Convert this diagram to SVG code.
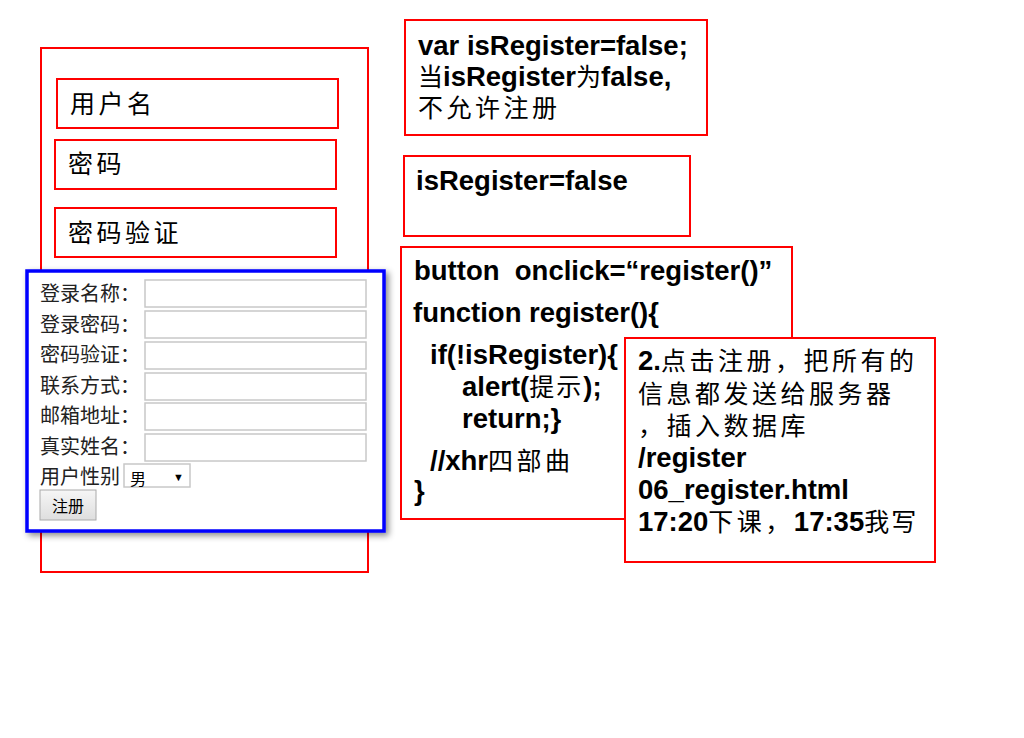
<svg xmlns="http://www.w3.org/2000/svg" width="1024" height="738" viewBox="0 0 1024 738">
<style>
.box{fill:#fff;stroke:#f00;stroke-width:2}
.t{font-family:"Liberation Sans","Noto Sans CJK SC",sans-serif;fill:#000}
.b{font-weight:bold;font-size:27.5px}
.c{font-size:25px;letter-spacing:3.5px;font-weight:normal}
.f{font-size:20px;fill:#222}
.in{fill:#fff;stroke:#c8c8c8;stroke-width:1.5}
</style>
<defs>
<filter id="sh" x="-10%" y="-10%" width="125%" height="125%">
<feDropShadow dx="3" dy="3" stdDeviation="3" flood-color="#000" flood-opacity="0.45"/>
</filter>
<linearGradient id="btn" x1="0" y1="0" x2="0" y2="1">
<stop offset="0" stop-color="#f6f6f6"/><stop offset="1" stop-color="#dedede"/>
</linearGradient>
</defs>
<rect width="1024" height="738" fill="#fff"/>
<g id="page">
<rect class="box" x="41" y="48" width="327" height="524"/>
</g>
<g id="username">
<rect class="box" x="57" y="79" width="281" height="49"/>
<text class="t c" x="70" y="113">用户名</text>
</g>
<g id="password">
<rect class="box" x="55" y="140" width="281" height="49"/>
<text class="t c" x="68" y="173">密码</text>
</g>
<g id="password-confirm">
<rect class="box" x="55" y="208" width="281" height="49"/>
<text class="t c" x="68" y="242">密码验证</text>
</g>
<g id="form">
<rect x="27" y="271" width="357" height="260" fill="#fff" stroke="#00f" stroke-width="3.5" filter="url(#sh)"/>
<text class="t f" x="40" y="301">登录名称：</text>
<text class="t f" x="40" y="332">登录密码：</text>
<text class="t f" x="40" y="362">密码验证：</text>
<text class="t f" x="40" y="393">联系方式：</text>
<text class="t f" x="40" y="423">邮箱地址：</text>
<text class="t f" x="40" y="454">真实姓名：</text>
<rect class="in" x="145" y="280" width="221" height="27"/>
<rect class="in" x="145" y="311" width="221" height="27"/>
<rect class="in" x="145" y="342" width="221" height="27"/>
<rect class="in" x="145" y="373" width="221" height="27"/>
<rect class="in" x="145" y="403" width="221" height="27"/>
<rect class="in" x="145" y="434" width="221" height="27"/>
<text class="t f" x="40" y="484">用户性别</text>
<rect class="in" x="124" y="464" width="66" height="23"/>
<text class="t" x="130" y="485" font-size="16">男</text>
<text class="t" x="173" y="481" font-size="11">▼</text>
<rect x="40" y="490" width="56" height="30" fill="url(#btn)" stroke="#aaa" stroke-width="1"/>
<text class="t" x="68" y="512" font-size="16" text-anchor="middle" fill="#222">注册</text>
</g>
<g id="note-var">
<rect class="box" x="405" y="20" width="302" height="115"/>
<text class="t b" x="418" y="55">var isRegister=false;</text>
<text class="t b" x="418" y="86"><tspan class="c" style="letter-spacing:0">当</tspan>isRegister<tspan class="c" style="letter-spacing:0">为</tspan>false,</text>
<text class="t c" x="418" y="117">不允许注册</text>
</g>
<g id="note-false">
<rect class="box" x="404" y="156" width="286" height="80"/>
<text class="t b" x="416" y="190">isRegister=false</text>
</g>
<g id="note-code">
<rect class="box" x="401" y="247" width="391" height="272"/>
<text class="t b" x="414" y="280" xml:space="preserve">button  onclick=“register()”</text>
<text class="t b" x="413" y="322">function register(){</text>
<text class="t b" x="430" y="364">if(!isRegister){</text>
<text class="t b" x="462" y="396">alert(<tspan class="c" style="letter-spacing:2px">提示</tspan>);</text>
<text class="t b" x="462" y="428">return;}</text>
<text class="t b" x="430" y="470">//xhr<tspan class="c">四部曲</tspan></text>
<text class="t b" x="414" y="500">}</text>
</g>
<g id="note-submit">
<rect class="box" x="625" y="338" width="310" height="224"/>
<text class="t b" x="638" y="370">2.<tspan class="c">点击注册，把所有的</tspan></text>
<text class="t c" x="638" y="403">信息都发送给服务器</text>
<text class="t c" x="638" y="435">，插入数据库</text>
<text class="t b" x="638" y="467">/register</text>
<text class="t b" x="638" y="499">06_register.html</text>
<text class="t b" x="638" y="531">17:20<tspan class="c">下课，</tspan>17:35<tspan class="c" style="letter-spacing:2px">我写</tspan></text>
</g>
<g id="connectors"></g>
</svg>
